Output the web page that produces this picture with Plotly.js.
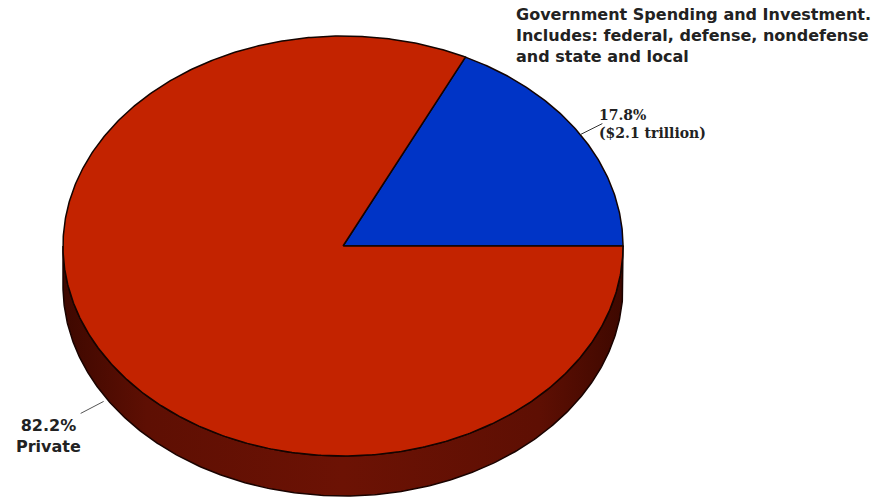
<!DOCTYPE html>
<html>
<head>
<meta charset="utf-8">
<script src="https://cdn.plot.ly/plotly-3.0.1.min.js"></script>
<style>html,body{margin:0;padding:0;background:#fff}#chart{width:895px;height:499px}</style>
</head>
<body>
<div id="chart"></div>
<script>
// ---- data ----
const sliceNames = ['Government', 'Private'];
const sliceShares = [17.8, 82.2];
const sliceNotes = ['($2.1 trillion)', 'Private'];
const headline = ['Government Spending and Investment.', 'Includes: federal, defense, nondefense', 'and state and local'];

// ---- styling / geometry ----
const sliceColors = ['#0034c6', '#c32300'];
const sideColor = '#6c1204';
const cx = 343, cy = 246, rx = 280, ry = 210, depth = 40;

function pt(deg, dy) {
  const r = deg * Math.PI / 180;
  return [cx + rx * Math.cos(r), cy + (dy || 0) - ry * Math.sin(r)];
}

const traces = [];

// side of the disc (visible lower half)
{
  const xs = [], ys = [];
  for (let a = 180; a <= 360; a += 0.5) { const p = pt(a, 0); xs.push(p[0]); ys.push(p[1]); }
  for (let a = 360; a >= 180; a -= 0.5) { const p = pt(a, depth); xs.push(p[0]); ys.push(p[1]); }
  xs.push(xs[0]); ys.push(ys[0]);
  traces.push({
    type: 'scatter', mode: 'lines', x: xs, y: ys, fill: 'toself',
    fillgradient: {type: 'horizontal', colorscale: [[0, '#3e0800'], [0.15, '#5e0f03'], [0.5, sideColor], [0.85, '#5e0f03'], [1, '#3e0800']]},
    fillcolor: sideColor,
    line: {color: '#1a0300', width: 1.5}, hoverinfo: 'skip', showlegend: false
  });
}

// top-face wedges
let cum = 0;
const mids = [];
sliceShares.forEach((s, i) => {
  const a0 = cum / 100 * 360, a1 = (cum + s) / 100 * 360;
  mids.push((a0 + a1) / 2);
  const xs = [cx], ys = [cy];
  const steps = Math.max(2, Math.ceil((a1 - a0) / 0.5));
  for (let k = 0; k <= steps; k++) { const p = pt(a0 + (a1 - a0) * k / steps); xs.push(p[0]); ys.push(p[1]); }
  xs.push(cx); ys.push(cy);
  traces.push({
    type: 'scatter', mode: 'lines', x: xs, y: ys, fill: 'toself',
    fillcolor: sliceColors[i], line: {color: '#140400', width: 1.5},
    name: sliceNames[i], hoverinfo: 'name', showlegend: false
  });
  cum += s;
});

// leader lines
const pBlue = pt(mids[0], 0);
const pRed = pt(mids[1], depth);
traces.push({type: 'scatter', mode: 'lines', x: [pBlue[0], pBlue[0] + 22], y: [pBlue[1], pBlue[1] - 11],
  line: {color: '#333', width: 1}, hoverinfo: 'skip', showlegend: false});
traces.push({type: 'scatter', mode: 'lines', x: [pRed[0] - 2, pRed[0] - 25], y: [pRed[1] + 4, pRed[1] + 16],
  line: {color: '#555', width: 1}, hoverinfo: 'skip', showlegend: false});

const annotations = [
  {x: 514, y: 35, xref: 'x', yref: 'y', xanchor: 'left', yanchor: 'middle', align: 'left', showarrow: false,
   text: headline.join('<br>'), font: {family: 'DejaVu Sans, Arial, sans-serif', size: 16, color: '#222', weight: 'bold'}},
  {x: pBlue[0] + 17, y: pBlue[1] - 11, xref: 'x', yref: 'y', xanchor: 'left', yanchor: 'middle', align: 'left', showarrow: false,
   text: sliceShares[0].toFixed(1) + '%<br>' + sliceNotes[0], font: {family: 'DejaVu Serif, Times New Roman, serif', size: 14, color: '#222', weight: 'bold'}},
  {x: 48, y: 436, xref: 'x', yref: 'y', xanchor: 'center', yanchor: 'middle', align: 'center', showarrow: false,
   text: sliceShares[1].toFixed(1) + '%<br>' + sliceNotes[1], font: {family: 'DejaVu Sans, Arial, sans-serif', size: 16, color: '#222', weight: 'bold'}}
];

const layout = {
  width: 895, height: 499,
  margin: {l: 0, r: 0, t: 0, b: 0, pad: 0},
  paper_bgcolor: '#fff', plot_bgcolor: '#fff',
  xaxis: {range: [0, 895], visible: false, fixedrange: true},
  yaxis: {range: [499, 0], visible: false, fixedrange: true},
  annotations: annotations,
  showlegend: false
};

Plotly.newPlot('chart', traces, layout, {displayModeBar: false, staticPlot: true});
</script>
</body>
</html>
